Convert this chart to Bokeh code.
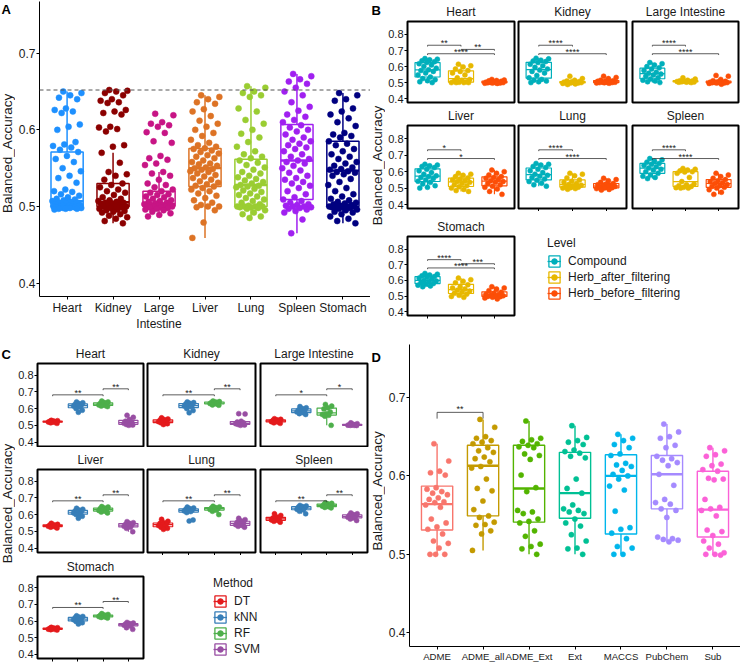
import numpy as np
from bokeh.plotting import figure
from bokeh.layouts import row, column
from bokeh.models import (ColumnDataSource, Range1d, FixedTicker, Span, Label,
                          Legend, LegendItem, CustomLabelingPolicy)
from bokeh.core.properties import value
from bokeh.embed import file_html
from bokeh.resources import INLINE

FONT = "Liberation Sans"
TXT = "#1a1a1a"
Y_TITLE = "Balanced_Accuracy"

# ---------------- Panel A data ----------------
A_organs = ["Heart", "Kidney", "Large Intestine", "Liver", "Lung", "Spleen", "Stomach"]
A_tick_labels = ["Heart", "Kidney", "Large\nIntestine", "Liver", "Lung", "Spleen", "Stomach"]
A_colors = ["#1E90FF", "#8B0000", "#C71585", "#DD7325", "#9ACD32", "#A020F0", "#000080"]
A_heart = [0.650, 0.648, 0.645, 0.642, 0.640, 0.628, 0.626, 0.624, 0.622, 0.607, 0.604, 0.600,
           0.584, 0.581, 0.579, 0.577, 0.574, 0.571, 0.566, 0.562, 0.558, 0.550, 0.546, 0.540,
           0.537, 0.531, 0.522, 0.520, 0.519, 0.516, 0.514, 0.512, 0.510, 0.509, 0.508, 0.507,
           0.506, 0.505, 0.505, 0.504, 0.503, 0.503, 0.502, 0.502, 0.501, 0.501, 0.500, 0.500,
           0.500, 0.500, 0.500, 0.500, 0.499, 0.499, 0.499, 0.498, 0.498, 0.498, 0.497, 0.497,
           0.497, 0.496]
A_kidney = [0.652, 0.651, 0.650, 0.648, 0.645, 0.640, 0.638, 0.636, 0.635, 0.626, 0.624, 0.622,
            0.620, 0.604, 0.603, 0.601, 0.598, 0.580, 0.578, 0.570, 0.557, 0.545, 0.542, 0.540,
            0.535, 0.530, 0.528, 0.525, 0.522, 0.520, 0.518, 0.515, 0.512, 0.510, 0.508, 0.507,
            0.506, 0.505, 0.505, 0.504, 0.503, 0.502, 0.501, 0.500, 0.500, 0.500, 0.499, 0.498,
            0.497, 0.496, 0.495, 0.494, 0.493, 0.492, 0.490, 0.488, 0.486, 0.484, 0.481, 0.478]
A_large_intestine = [0.621, 0.619, 0.610, 0.608, 0.606, 0.604, 0.597, 0.596, 0.585, 0.583,
                     0.566, 0.563, 0.561, 0.556, 0.554, 0.545, 0.543, 0.540, 0.535, 0.530,
                     0.528, 0.525, 0.522, 0.520, 0.518, 0.516, 0.515, 0.513, 0.512, 0.510,
                     0.508, 0.507, 0.506, 0.505, 0.504, 0.503, 0.502, 0.502, 0.501, 0.501,
                     0.500, 0.500, 0.500, 0.500, 0.499, 0.499, 0.498, 0.497, 0.496, 0.495,
                     0.493, 0.491, 0.489, 0.487]
A_liver = [0.645, 0.643, 0.640, 0.636, 0.634, 0.627, 0.624, 0.618, 0.612, 0.608, 0.604, 0.600,
           0.596, 0.592, 0.587, 0.583, 0.580, 0.578, 0.576, 0.575, 0.573, 0.571, 0.569, 0.567,
           0.565, 0.563, 0.560, 0.558, 0.556, 0.555, 0.553, 0.551, 0.550, 0.549, 0.548, 0.546,
           0.545, 0.543, 0.541, 0.539, 0.537, 0.535, 0.533, 0.531, 0.529, 0.527, 0.526, 0.524,
           0.522, 0.520, 0.517, 0.514, 0.511, 0.508, 0.505, 0.502, 0.500, 0.500, 0.499, 0.495,
           0.479, 0.459]
A_lung = [0.657, 0.655, 0.650, 0.648, 0.645, 0.643, 0.628, 0.624, 0.613, 0.608, 0.600, 0.595,
          0.590, 0.584, 0.578, 0.572, 0.568, 0.565, 0.563, 0.560, 0.557, 0.554, 0.551, 0.548,
          0.545, 0.543, 0.540, 0.538, 0.536, 0.534, 0.532, 0.530, 0.528, 0.527, 0.526, 0.525,
          0.523, 0.521, 0.519, 0.517, 0.515, 0.513, 0.511, 0.509, 0.507, 0.505, 0.503, 0.501,
          0.500, 0.500, 0.500, 0.500, 0.499, 0.499, 0.498, 0.497, 0.495, 0.492, 0.490, 0.487,
          0.485]
A_spleen = [0.673, 0.670, 0.666, 0.663, 0.660, 0.655, 0.650, 0.645, 0.636, 0.630, 0.625, 0.620,
            0.617, 0.613, 0.610, 0.606, 0.603, 0.600, 0.598, 0.594, 0.590, 0.587, 0.585, 0.582,
            0.580, 0.577, 0.575, 0.572, 0.568, 0.565, 0.562, 0.560, 0.558, 0.556, 0.553, 0.550,
            0.547, 0.544, 0.540, 0.537, 0.535, 0.532, 0.530, 0.527, 0.524, 0.520, 0.516, 0.512,
            0.509, 0.507, 0.505, 0.503, 0.502, 0.501, 0.500, 0.500, 0.499, 0.498, 0.497, 0.496,
            0.494, 0.492, 0.483, 0.465]
A_stomach = [0.648, 0.645, 0.640, 0.638, 0.628, 0.624, 0.620, 0.615, 0.610, 0.605, 0.596, 0.594,
             0.592, 0.590, 0.585, 0.582, 0.580, 0.575, 0.572, 0.568, 0.565, 0.562, 0.558, 0.556,
             0.553, 0.551, 0.549, 0.548, 0.546, 0.545, 0.544, 0.542, 0.540, 0.536, 0.532, 0.528,
             0.524, 0.520, 0.516, 0.513, 0.510, 0.508, 0.506, 0.505, 0.504, 0.503, 0.502, 0.501,
             0.500, 0.500, 0.500, 0.500, 0.499, 0.499, 0.498, 0.497, 0.496, 0.495, 0.493, 0.492,
             0.490, 0.487, 0.484, 0.481, 0.478]
A_q1 = [0.500, 0.500, 0.5005, 0.526, 0.500, 0.509, 0.500]
A_median = [0.507, 0.5055, 0.503, 0.550, 0.528, 0.560, 0.5467]
A_q3 = [0.571, 0.530, 0.520, 0.5755, 0.5615, 0.607, 0.585]
A_whisker_low = [0.496, 0.478, 0.487, 0.459, 0.485, 0.465, 0.478]
A_whisker_high = [0.650, 0.570, 0.545, 0.645, 0.657, 0.673, 0.648]
A_threshold = 0.652

# ---------------- Panel B data ----------------
B_facets = ["Heart", "Kidney", "Large Intestine", "Liver", "Lung", "Spleen", "Stomach"]
B_levels = ["Compound", "Herb_after_filtering", "Herb_before_filtering"]
B_colors = ["#00AFBB", "#E7B800", "#FC4E07"]
B_heart_compound = [0.650, 0.646, 0.642, 0.636, 0.630, 0.625, 0.618, 0.610, 0.600, 0.590, 0.580,
                    0.575, 0.570, 0.560, 0.548, 0.535, 0.525, 0.518, 0.512, 0.505, 0.500]
B_heart_after = [0.615, 0.605, 0.598, 0.585, 0.575, 0.570, 0.560, 0.548, 0.530, 0.520, 0.515,
                 0.510, 0.505, 0.502, 0.500, 0.500, 0.500, 0.500]
B_heart_before = [0.520, 0.516, 0.513, 0.511, 0.508, 0.505, 0.503, 0.502, 0.501, 0.500, 0.500,
                  0.499, 0.498, 0.497, 0.496, 0.495]
B_kidney_compound = [0.652, 0.648, 0.640, 0.635, 0.631, 0.625, 0.615, 0.605, 0.595, 0.585, 0.578,
                     0.570, 0.560, 0.545, 0.530, 0.520, 0.515, 0.510, 0.505, 0.500]
B_kidney_after = [0.540, 0.525, 0.515, 0.510, 0.507, 0.505, 0.503, 0.502, 0.501, 0.500, 0.500,
                  0.499, 0.498, 0.497, 0.495, 0.492, 0.488]
B_kidney_before = [0.540, 0.532, 0.525, 0.515, 0.512, 0.510, 0.508, 0.505, 0.503, 0.502, 0.501,
                   0.500, 0.500, 0.499, 0.498, 0.496]
B_li_compound = [0.625, 0.618, 0.610, 0.600, 0.592, 0.585, 0.575, 0.565, 0.558, 0.553, 0.548,
                 0.540, 0.530, 0.522, 0.515, 0.510, 0.505, 0.500]
B_li_after = [0.530, 0.522, 0.515, 0.512, 0.510, 0.508, 0.507, 0.506, 0.505, 0.504, 0.503,
              0.502, 0.500]
B_li_before = [0.545, 0.540, 0.520, 0.512, 0.508, 0.505, 0.503, 0.502, 0.501, 0.500, 0.500,
               0.499, 0.498, 0.497, 0.495, 0.490]
B_liver_compound = [0.645, 0.640, 0.636, 0.632, 0.625, 0.615, 0.605, 0.595, 0.585, 0.575, 0.570,
                    0.565, 0.558, 0.550, 0.542, 0.535, 0.525, 0.515, 0.505, 0.500]
B_liver_after = [0.590, 0.585, 0.578, 0.570, 0.562, 0.556, 0.550, 0.545, 0.540, 0.535, 0.528,
                 0.520, 0.515, 0.508, 0.500, 0.492, 0.485, 0.480]
B_liver_before = [0.610, 0.600, 0.590, 0.580, 0.570, 0.565, 0.560, 0.552, 0.545, 0.540, 0.535,
                  0.528, 0.520, 0.512, 0.505, 0.495, 0.480, 0.462]
B_lung_compound = [0.650, 0.645, 0.640, 0.632, 0.625, 0.615, 0.605, 0.595, 0.585, 0.578, 0.572,
                   0.565, 0.555, 0.548, 0.540, 0.530, 0.520, 0.512]
B_lung_after = [0.590, 0.585, 0.575, 0.562, 0.550, 0.542, 0.535, 0.528, 0.522, 0.518, 0.514,
                0.510, 0.506, 0.503, 0.500, 0.497, 0.493]
B_lung_before = [0.560, 0.552, 0.545, 0.535, 0.528, 0.524, 0.520, 0.516, 0.513, 0.510, 0.507,
                 0.505, 0.502, 0.500, 0.497, 0.492, 0.488]
B_spleen_compound = [0.680, 0.672, 0.665, 0.658, 0.650, 0.645, 0.638, 0.630, 0.622, 0.615, 0.608,
                     0.600, 0.590, 0.580, 0.572, 0.565, 0.558]
B_spleen_after = [0.620, 0.615, 0.610, 0.605, 0.600, 0.598, 0.590, 0.565, 0.540, 0.525, 0.520,
                  0.515, 0.510, 0.505, 0.503, 0.500, 0.500]
B_spleen_before = [0.590, 0.580, 0.570, 0.560, 0.552, 0.545, 0.538, 0.532, 0.528, 0.522, 0.515,
                   0.510, 0.505, 0.500, 0.490, 0.475, 0.462]
B_stomach_compound = [0.645, 0.640, 0.635, 0.630, 0.625, 0.620, 0.615, 0.608, 0.600, 0.596, 0.592,
                      0.585, 0.580, 0.575, 0.570, 0.565, 0.560]
B_stomach_after = [0.615, 0.605, 0.595, 0.585, 0.572, 0.560, 0.552, 0.545, 0.538, 0.532, 0.525,
                   0.518, 0.512, 0.505, 0.498, 0.492]
B_stomach_before = [0.560, 0.552, 0.545, 0.535, 0.525, 0.518, 0.512, 0.508, 0.505, 0.502, 0.500,
                    0.498, 0.496, 0.493, 0.488, 0.482]
B_signif = {
    "Heart": [(1, 2, "**"), (2, 3, "**"), (1, 3, "****")],
    "Kidney": [(1, 2, "****"), (1, 3, "****")],
    "Large Intestine": [(1, 2, "****"), (1, 3, "****")],
    "Liver": [(1, 2, "*"), (1, 3, "*")],
    "Lung": [(1, 2, "****"), (1, 3, "****")],
    "Spleen": [(1, 2, "****"), (1, 3, "****")],
    "Stomach": [(1, 2, "****"), (2, 3, "***"), (1, 3, "****")],
}
B_bracket_y = {(1, 2): 0.733, (2, 3): 0.707, (1, 3): 0.680}

# ---------------- Panel C data ----------------
C_facets = ["Heart", "Kidney", "Large Intestine", "Liver", "Lung", "Spleen", "Stomach"]
C_methods = ["DT", "kNN", "RF", "SVM"]
C_colors = ["#E41A1C", "#377EB8", "#4DAF4A", "#984EA3"]
C_heart = [[0.530, 0.528, 0.526, 0.524, 0.522, 0.521, 0.520, 0.518, 0.515, 0.512],
           [0.640, 0.635, 0.630, 0.626, 0.622, 0.618, 0.615, 0.610, 0.600, 0.590, 0.578],
           [0.645, 0.640, 0.636, 0.632, 0.628, 0.625, 0.622, 0.618, 0.615, 0.612],
           [0.560, 0.548, 0.535, 0.525, 0.520, 0.516, 0.512, 0.508, 0.505, 0.502, 0.500]]
C_kidney = [[0.545, 0.538, 0.535, 0.532, 0.528, 0.525, 0.522, 0.518, 0.515, 0.510, 0.505],
            [0.640, 0.636, 0.632, 0.628, 0.622, 0.618, 0.615, 0.612, 0.600, 0.588, 0.575],
            [0.645, 0.642, 0.640, 0.637, 0.635, 0.632, 0.630, 0.628, 0.622, 0.620],
            [0.570, 0.568, 0.525, 0.520, 0.515, 0.512, 0.510, 0.508, 0.505, 0.502, 0.500]]
C_large_intestine = [[0.540, 0.536, 0.533, 0.530, 0.528, 0.525, 0.522, 0.520, 0.515, 0.512],
                     [0.612, 0.605, 0.600, 0.592, 0.588, 0.585, 0.580, 0.575, 0.570, 0.565],
                     [0.625, 0.615, 0.605, 0.598, 0.580, 0.570, 0.565, 0.560, 0.555, 0.500],
                     [0.515, 0.510, 0.506, 0.504, 0.503, 0.502, 0.501, 0.500, 0.500, 0.499]]
C_liver = [[0.548, 0.542, 0.540, 0.538, 0.535, 0.533, 0.530, 0.528, 0.525, 0.520],
           [0.638, 0.632, 0.628, 0.622, 0.618, 0.614, 0.610, 0.605, 0.600, 0.590, 0.578],
           [0.648, 0.645, 0.640, 0.636, 0.632, 0.628, 0.625, 0.620, 0.615, 0.610],
           [0.558, 0.552, 0.548, 0.542, 0.538, 0.535, 0.530, 0.525, 0.518, 0.498]]
C_lung = [[0.572, 0.560, 0.552, 0.548, 0.545, 0.540, 0.535, 0.530, 0.525, 0.518, 0.512],
          [0.645, 0.640, 0.636, 0.632, 0.628, 0.625, 0.622, 0.618, 0.612, 0.568, 0.562],
          [0.650, 0.646, 0.642, 0.640, 0.637, 0.634, 0.630, 0.626, 0.620, 0.600],
          [0.578, 0.570, 0.562, 0.555, 0.550, 0.545, 0.540, 0.535, 0.530, 0.525]]
C_spleen = [[0.605, 0.595, 0.585, 0.580, 0.576, 0.572, 0.568, 0.565, 0.560, 0.555],
            [0.655, 0.652, 0.648, 0.645, 0.640, 0.636, 0.632, 0.628, 0.620, 0.605],
            [0.670, 0.667, 0.664, 0.660, 0.657, 0.654, 0.650, 0.647, 0.643, 0.640],
            [0.610, 0.605, 0.600, 0.596, 0.592, 0.588, 0.584, 0.580, 0.574, 0.565]]
C_stomach = [[0.562, 0.560, 0.558, 0.556, 0.555, 0.553, 0.551, 0.550, 0.548, 0.546],
             [0.632, 0.628, 0.624, 0.620, 0.616, 0.612, 0.608, 0.604, 0.598, 0.590, 0.582],
             [0.645, 0.640, 0.637, 0.635, 0.632, 0.630, 0.627, 0.624, 0.622, 0.618],
             [0.592, 0.588, 0.585, 0.582, 0.580, 0.578, 0.575, 0.570, 0.560, 0.550]]
C_signif_labels = ["**", "**", "*", "**", "**", "**", "**"]
C_pairs = [(1, 3), (3, 4)]
C_bracket_y = [0.682, 0.718]

# ---------------- Panel D data ----------------
D_features = ["ADME", "ADME_all", "ADME_Ext", "Ext", "MACCS", "PubChem", "Sub"]
D_colors = ["#F8766D", "#C49A00", "#53B400", "#00C094", "#00B6EB", "#A58AFF", "#FB61D7"]
D_adme = [0.641, 0.619, 0.606, 0.604, 0.601, 0.585, 0.583, 0.580, 0.578, 0.576, 0.572, 0.570,
          0.567, 0.566, 0.563, 0.560, 0.545, 0.540, 0.535, 0.532, 0.526, 0.517, 0.514, 0.508,
          0.500, 0.500, 0.500]
D_adme_all = [0.672, 0.662, 0.650, 0.648, 0.645, 0.643, 0.641, 0.636, 0.632, 0.630, 0.624, 0.622,
              0.618, 0.612, 0.610, 0.596, 0.584, 0.581, 0.568, 0.557, 0.549, 0.547, 0.541, 0.538,
              0.537, 0.530, 0.526, 0.505]
D_adme_ext = [0.670, 0.648, 0.646, 0.644, 0.641, 0.639, 0.637, 0.636, 0.628, 0.626, 0.621, 0.601,
              0.585, 0.580, 0.556, 0.554, 0.552, 0.545, 0.542, 0.540, 0.530, 0.523, 0.513, 0.510,
              0.507, 0.500]
D_ext = [0.664, 0.649, 0.645, 0.643, 0.640, 0.633, 0.631, 0.629, 0.625, 0.623, 0.596, 0.584,
         0.578, 0.563, 0.558, 0.556, 0.554, 0.552, 0.545, 0.540, 0.536, 0.525, 0.517, 0.508,
         0.507, 0.500]
D_maccs = [0.653, 0.648, 0.645, 0.640, 0.636, 0.628, 0.626, 0.616, 0.614, 0.612, 0.607, 0.602,
           0.600, 0.596, 0.587, 0.582, 0.555, 0.534, 0.532, 0.527, 0.520, 0.510, 0.508, 0.500,
           0.500]
D_pubchem = [0.666, 0.656, 0.650, 0.648, 0.639, 0.636, 0.625, 0.622, 0.620, 0.617, 0.613, 0.602,
             0.588, 0.570, 0.566, 0.564, 0.558, 0.556, 0.547, 0.522, 0.520, 0.519, 0.518, 0.516]
D_sub = [0.636, 0.632, 0.627, 0.625, 0.615, 0.613, 0.608, 0.606, 0.597, 0.596, 0.595, 0.570,
         0.560, 0.558, 0.556, 0.549, 0.531, 0.529, 0.524, 0.517, 0.513, 0.508, 0.502, 0.500,
         0.500, 0.499]
D_q1 = [0.531, 0.549, 0.541, 0.546, 0.526, 0.558, 0.522]
D_median = [0.564, 0.613, 0.584, 0.578, 0.600, 0.602, 0.557]
D_q3 = [0.587, 0.639, 0.639, 0.630, 0.627, 0.626, 0.606]
D_whisker_low = [0.500, 0.505, 0.500, 0.500, 0.500, 0.516, 0.499]
D_whisker_high = [0.641, 0.672, 0.670, 0.664, 0.653, 0.666, 0.636]
D_signif = [("ADME", "ADME_all", "**")]
D_bracket_y = 0.681


# ---------------- helpers ----------------
def jitter_offsets(n, half):
    return [(((i * 0.6180339887 + 0.37) % 1.0) * 2 - 1) * half for i in range(n)]


def box_stats(vals):
    a = np.asarray(vals, dtype=float)
    q1, med, q3 = np.percentile(a, [25, 50, 75])
    iqr = q3 - q1
    lo = a[a >= q1 - 1.5 * iqr].min()
    hi = a[a <= q3 + 1.5 * iqr].max()
    return q1, med, q3, lo, hi


def draw_boxes(p, xs, q1, med, q3, lo, hi, colors, width, lw, mlw):
    src = ColumnDataSource(dict(x=list(xs), l=[x - width / 2 for x in xs], r=[x + width / 2 for x in xs],
                                q1=list(q1), med=list(med), q3=list(q3), lo=list(lo), hi=list(hi),
                                c=list(colors)))
    p.segment(x0="x", y0="q3", x1="x", y1="hi", source=src, line_color="c", line_width=lw)
    p.segment(x0="x", y0="lo", x1="x", y1="q1", source=src, line_color="c", line_width=lw)
    p.quad(left="l", right="r", bottom="q1", top="q3", source=src, fill_color="white",
           line_color="c", line_width=lw)
    p.segment(x0="l", y0="med", x1="r", y1="med", source=src, line_color="c", line_width=mlw)


def draw_points(p, groups, xs, colors, half, size):
    px, py, pc = [], [], []
    for vals, x, c in zip(groups, xs, colors):
        offs = jitter_offsets(len(vals), half)
        px += [x + o for o in offs]
        py += list(vals)
        pc += [c] * len(vals)
    src = ColumnDataSource(dict(x=px, y=py, c=pc))
    p.scatter(x="x", y="y", source=src, size=size, fill_color="c", line_color="c", line_width=0.5)


def draw_brackets(p, pairs, ys, labels, tip, font_size, gap):
    x0, y0, x1, y1 = [], [], [], []
    tx, ty = [], []
    for (a, b), y in zip(pairs, ys):
        x0 += [a, a, b]
        y0 += [y, y, y]
        x1 += [b, a, b]
        y1 += [y, y - tip, y - tip]
        tx.append((a + b) / 2)
        ty.append(y + gap)
    p.segment(x0=x0, y0=y0, x1=x1, y1=y1, line_color="#333333", line_width=0.8)
    src = ColumnDataSource(dict(x=tx, y=ty, t=list(labels)))
    p.text(x="x", y="y", text="t", source=src, text_font=value(FONT), text_font_size=font_size,
           text_align="center", text_baseline="alphabetic", text_color="#222222")


def style_axis(ax, tick_size, label_size):
    ax.major_tick_line_color = "black"
    ax.major_tick_in = 0
    ax.major_tick_out = 3
    ax.minor_tick_line_color = None
    ax.major_label_text_font = FONT
    ax.major_label_text_font_size = tick_size
    ax.major_label_text_color = TXT
    ax.major_label_standoff = 1
    ax.axis_label_text_font = FONT
    ax.axis_label_text_font_size = label_size
    ax.axis_label_text_font_style = "normal"
    ax.axis_label_text_color = TXT
    ax.axis_label_standoff = 2


def blank_fig(width, height, **borders):
    b = dict(min_border_left=0, min_border_right=0, min_border_top=0, min_border_bottom=0)
    b.update(borders)
    p = figure(width=width, height=height, title=None, x_range=Range1d(0, width),
               y_range=Range1d(0, height), toolbar_location=None, output_backend="svg",
               x_axis_location=None, y_axis_location=None, **b)
    p.grid.visible = False
    p.outline_line_color = None
    return p


def strip_fig(width, height, letter_text, letter_top, title_center):
    """Narrow side strip holding the panel letter and the shared y-axis title."""
    p = blank_fig(width, height)
    p.add_layout(Label(x=1, y=height - letter_top, text=letter_text, text_font=FONT,
                       text_font_size="13px", text_font_style="bold", text_color="black",
                       text_baseline="top", text_align="left"))
    p.add_layout(Label(x=7, y=height - title_center, angle=np.pi / 2, text=Y_TITLE,
                       text_font=FONT, text_font_size="13.5px", text_color=TXT,
                       text_baseline="middle", text_align="center"))
    return p


def classic_fig(width, height, lb, rb, tb, bb, xr, yr, ticks_x, labels_x, ticks_y, xfont):
    p = figure(width=width, height=height, x_range=Range1d(*xr), y_range=Range1d(*yr),
               toolbar_location=None, output_backend="svg",
               min_border_left=lb, min_border_right=rb, min_border_top=tb, min_border_bottom=bb)
    p.grid.visible = False
    p.outline_line_color = None
    for ax in p.axis:
        style_axis(ax, "12px", "13.5px")
        ax.axis_line_color = "black"
        ax.axis_line_width = 1
    p.xaxis.major_label_text_font_size = xfont
    p.xaxis.ticker = FixedTicker(ticks=ticks_x)
    p.xaxis.major_label_overrides = {t: l for t, l in zip(ticks_x, labels_x)}
    p.yaxis.ticker = FixedTicker(ticks=ticks_y)
    return p


NO_LABELS = CustomLabelingPolicy(code="""
    for (const i of Array.from(indices)) { indices.unset(i) }
    return indices
""")


def facet_fig(title, width, height, lb, rb, tb, bb, xr, yr, nx, show_x, show_y):
    p = figure(width=width, height=height, x_range=Range1d(*xr), y_range=Range1d(*yr),
               toolbar_location=None, output_backend="svg", title=title,
               min_border_left=lb, min_border_right=rb, min_border_top=tb, min_border_bottom=bb)
    p.title.align = "center"
    p.title.text_font = FONT
    p.title.text_font_size = "12px"
    p.title.text_font_style = "normal"
    p.title.text_color = TXT
    p.title.standoff = 5
    p.grid.visible = False
    p.outline_line_color = "black"
    p.outline_line_width = 2
    for ax in p.axis:
        style_axis(ax, "11px", "13.5px")
        ax.axis_line_color = None
    p.yaxis.ticker = FixedTicker(ticks=[0.4, 0.5, 0.6, 0.7, 0.8])
    p.xaxis.ticker = FixedTicker(ticks=list(range(1, nx + 1)))
    p.xaxis.major_label_text_font_size = "0px"
    p.xaxis.major_label_standoff = 0
    p.xaxis.major_label_policy = NO_LABELS
    p.xaxis.visible = show_x
    p.yaxis.visible = show_y
    return p


def legend_fig(width, height, lb, tb, title, labels, colors):
    p = blank_fig(width, height, min_border_left=lb, min_border_top=tb)
    items = []
    for lab, c in zip(labels, colors):
        src = ColumnDataSource(dict(x=[np.nan], y=[np.nan]))
        r1 = p.quad(left="x", right="x", bottom="y", top="y", source=src, fill_color="white",
                    line_color=c, line_width=1.3)
        r2 = p.segment(x0="x", y0="y", x1="x", y1="y", source=src, line_color=c, line_width=1.3)
        r3 = p.scatter(x="x", y="y", source=src, size=5, fill_color=c, line_color=c)
        items.append(LegendItem(label=lab, renderers=[r1, r2, r3]))
    leg = Legend(items=items, title=title, location="top_left", margin=0, padding=0,
                 spacing=0, glyph_width=14, glyph_height=14, label_height=16, label_standoff=7,
                 label_text_font=FONT, label_text_font_size="12px", label_text_color=TXT,
                 title_text_font=FONT, title_text_font_size="12px", title_text_font_style="normal",
                 title_text_color=TXT, title_standoff=3, border_line_color=None,
                 background_fill_alpha=0)
    p.add_layout(leg)
    return p


# ---------------- Panel A ----------------
A_groups = [A_heart, A_kidney, A_large_intestine, A_liver, A_lung, A_spleen, A_stomach]
A_x = list(range(1, len(A_organs) + 1))
pA = classic_fig(355, 334, 21, 0, 1, 31, (0.4, 7.6), (0.3825, 0.7675), A_x, A_tick_labels,
                 [0.4, 0.5, 0.6, 0.7], "12px")
draw_boxes(pA, A_x, A_q1, A_median, A_q3, A_whisker_low, A_whisker_high, A_colors, 0.7, 1.5, 2.3)
draw_points(pA, A_groups, A_x, A_colors, 0.32, 6)
pA.add_layout(Span(location=A_threshold, dimension="width", line_dash="4 3",
                   line_color="#555555", line_width=1))
stripA = strip_fig(15, 334, "A", 1, 172)

# ---------------- Panel B ----------------
B_groups = {
    "Heart": [B_heart_compound, B_heart_after, B_heart_before],
    "Kidney": [B_kidney_compound, B_kidney_after, B_kidney_before],
    "Large Intestine": [B_li_compound, B_li_after, B_li_before],
    "Liver": [B_liver_compound, B_liver_after, B_liver_before],
    "Lung": [B_lung_compound, B_lung_after, B_lung_before],
    "Spleen": [B_spleen_compound, B_spleen_after, B_spleen_before],
    "Stomach": [B_stomach_compound, B_stomach_after, B_stomach_before],
}
B_cols = [(131, 21, 2), (113, 2, 3), (111, 3, 2)]          # width, left, right borders
B_rows = [(104, 18, 2), (107, 20, 3), (123, 21, 19)]       # height, top, bottom borders
B_yr = (0.376, 0.881)
B_figs = []
for i, facet in enumerate(B_facets):
    r, c = divmod(i, 3)
    w, lb, rb = B_cols[c]
    h, tb, bb = B_rows[r]
    show_x = (r == 2) or (r == 1 and c > 0)
    p = facet_fig(facet, w, h, lb, rb, tb, bb, (0.4, 3.6), B_yr, 3, show_x, c == 0)
    groups = B_groups[facet]
    stats = [box_stats(g) for g in groups]
    xs = [1, 2, 3]
    draw_boxes(p, xs, *zip(*stats), B_colors, 0.75, 1.2, 1.2)
    draw_points(p, groups, xs, B_colors, 0.3, 5)
    sig = B_signif[facet]
    draw_brackets(p, [(a, b) for a, b, _ in sig], [B_bracket_y[(a, b)] for a, b, _ in sig],
                  [s for _, _, s in sig], 0.008, "9px", 0.012)
    B_figs.append(p)
legB = legend_fig(224, 123, 31, 25, "Level", B_levels, B_colors)
stripB = strip_fig(15, 334, "B", 2, 165)
blockB = row(stripB, column(row(*B_figs[0:3]), row(*B_figs[3:6]), row(B_figs[6], legB)))

# ---------------- Panel C ----------------
C_groups = [C_heart, C_kidney, C_large_intestine, C_liver, C_lung, C_spleen, C_stomach]
C_cols = [(130, 19, 2), (112, 2, 2), (113, 3, 3)]
C_rows = [(113, 29, 1), (108, 22, 3), (109, 21, 6)]
C_yr = (0.374, 0.869)
C_figs = []
for i, facet in enumerate(C_facets):
    r, c = divmod(i, 3)
    w, lb, rb = C_cols[c]
    h, tb, bb = C_rows[r]
    show_x = (r == 2) or (r == 1 and c > 0)
    p = facet_fig(facet, w, h, lb, rb, tb, bb, (0.4, 4.6), C_yr, 4, show_x, c == 0)
    groups = C_groups[i]
    stats = [box_stats(g) for g in groups]
    xs = [1, 2, 3, 4]
    draw_boxes(p, xs, *zip(*stats), C_colors, 0.76, 1.2, 1.2)
    draw_points(p, groups, xs, C_colors, 0.2, 5)
    draw_brackets(p, C_pairs, C_bracket_y, [C_signif_labels[i]] * 2, 0.008, "9px", 0.012)
    C_figs.append(p)
legC = legend_fig(225, 109, 68, 13, "Method", C_methods, C_colors)
stripC = strip_fig(15, 330, "C", 12, 169)
blockC = row(stripC, column(row(*C_figs[0:3]), row(*C_figs[3:6]), row(C_figs[6], legC)))

# ---------------- Panel D ----------------
D_groups = [D_adme, D_adme_all, D_adme_ext, D_ext, D_maccs, D_pubchem, D_sub]
D_x = list(range(1, len(D_features) + 1))
pD = classic_fig(355, 330, 21, 0, 10, 17, (0.4, 7.6), (0.3825, 0.7675), D_x, D_features,
                 [0.4, 0.5, 0.6, 0.7], "9.6px")
draw_boxes(pD, D_x, D_q1, D_median, D_q3, D_whisker_low, D_whisker_high, D_colors, 0.68, 1.4, 2.4)
draw_points(pD, D_groups, D_x, D_colors, 0.26, 5.2)
D_pairs = [(D_features.index(a) + 1, D_features.index(b) + 1) for a, b, _ in D_signif]
draw_brackets(pD, D_pairs, [D_bracket_y] * len(D_pairs), [s for _, _, s in D_signif],
              0.008, "9px", 0.004)
stripD = strip_fig(15, 330, "D", 6, 160)

layout = column(row(stripA, pA, blockB), row(blockC, stripD, pD))
open("out.html", "w").write(file_html(layout, INLINE))
